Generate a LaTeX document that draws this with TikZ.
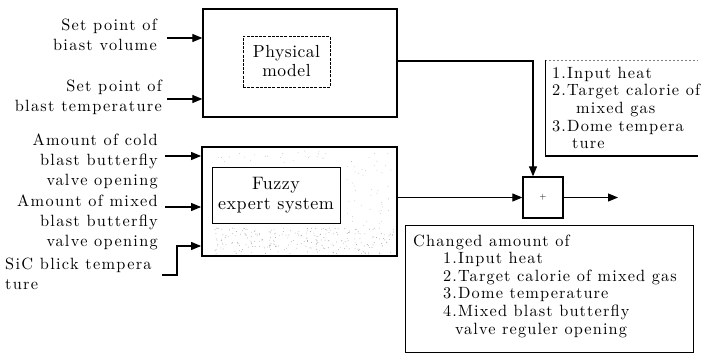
\documentclass[tikz,border=0pt]{standalone}
\usepackage{fontspec}
\usetikzlibrary{arrows.meta}

% Latin Modern at the 10pt design size, letter-spaced like typewritten labels
\newfontfamily\labfont{lmroman10-regular.otf}[LetterSpace=8]
\newfontfamily\notefont{lmroman10-regular.otf}[LetterSpace=7]
\newfontfamily\blockfont{lmroman10-regular.otf}[LetterSpace=3]

\tikzset{
  x=1pt, y=-1pt,
  arr/.style={line width=1.1pt, -{Triangle[length=10pt,width=8pt]}},
  lbl/.style={inner sep=0pt, align=right,
    font=\labfont\fontsize{16.3}{20}\selectfont},
  note/.style={inner sep=0pt, align=left,
    font=\notefont\fontsize{16.3}{17.6}\selectfont},
  outerbox/.style={draw, line width=1.3pt, inner sep=0pt},
  innerbox/.style={draw, line width=0.7pt, inner sep=0pt, align=center},
}

\begin{document}
\begin{tikzpicture}
  \useasboundingbox (0,0) rectangle (701,355);

  % main blocks
  \node[outerbox, minimum width=194pt, minimum height=108pt] (phys) at (300,63) {};
  \node[innerbox, dash pattern=on 3pt off 1.2pt, minimum width=87pt, minimum height=51pt,
        font=\blockfont\fontsize{17.5}{19}\selectfont]
        (physin) at (286.5,61.5) {Physical\\model};

  \node[outerbox, line width=1.8pt, minimum width=195pt, minimum height=109pt] (fuzzy) at (299.5,201.5) {};
  \node[innerbox, minimum width=128pt, minimum height=56pt,
        font=\blockfont\fontsize{18}{20}\selectfont]
        (fuzzyin) at (276,195) {Fuzzy\\expert system};

  % stippled shading inside the fuzzy block
  \begin{scope}
    \pgfmathsetseed{11}
    \foreach \i in {1,...,260}{
      \pgfmathsetmacro\px{215+180*rnd}
      \pgfmathsetmacro\py{228+26*rnd}
      \fill[gray!70] (\px,\py) circle (0.45pt);
    }
    \foreach \i in {1,...,45}{
      \pgfmathsetmacro\px{346+46*rnd}
      \pgfmathsetmacro\py{152+74*rnd}
      \fill[gray!60] (\px,\py) circle (0.4pt);
    }
    \foreach \i in {1,...,25}{
      \pgfmathsetmacro\px{216+120*rnd}
      \pgfmathsetmacro\py{151+12*rnd}
      \fill[gray!60] (\px,\py) circle (0.4pt);
    }
  \end{scope}

  % summing junction
  \node[draw, line width=1.3pt, minimum width=40pt, minimum height=41pt, inner sep=0pt,
        font=\fontsize{9}{9}\selectfont] (sum) at (543,197.5) {+};
  \coordinate (out) at (618,197.5);

  % input labels
  \node[lbl, anchor=east] (sp1) at (157,35) {Set point of\\biast volume};
  \node[lbl, anchor=east] (sp2) at (162,97.5) {Set point of\\blast temperature};
  \node[lbl, anchor=east] (cold) at (158,161) {Amount of cold\\blast butterfly\\valve opening};
  \node[lbl, anchor=east] (mix) at (158,222) {Amount of mixed\\blast butterfly\\valve opening};
  \node[lbl, align=left, anchor=west] (sic) at (5,273.5) {SiC blick tempera\\ture};

  % input arrows
  \coordinate (i1) at (167,38);
  \coordinate (i2) at (167,99);
  \coordinate (i3) at (165,156);
  \coordinate (i4) at (165,207);
  \coordinate (i5) at (162,275);
  \coordinate (bend) at (177,246);
  \draw[arr] (i1) -- (phys.west |- i1);
  \draw[arr] (i2) -- (phys.west |- i2);
  \draw[arr] (i3) -- (fuzzy.west |- i3);
  \draw[arr] (i4) -- (fuzzy.west |- i4);
  \draw[arr] (i5) -| (bend) -- (fuzzy.west |- bend);

  % block outputs into the junction
  \coordinate (ptop) at (397,61);
  \draw[arr] (ptop) -| ([xshift=-10pt]sum.north);
  \draw[arr] (fuzzy.east |- sum) -- (sum.west);
  \draw[arr] (sum.east) -- (out);

  % list of corrected quantities
  \coordinate (nTL) at (545,60);
  \coordinate (nBR) at (698,156);
  \draw[line width=0.5pt, dash pattern=on 2pt off 2pt, gray] (nTL) -- (nTL -| nBR);
  \draw[line width=0.7pt] (nTL) -- (nTL |- nBR);
  \draw[line width=1.1pt] (nTL |- nBR) -- (nBR);
  \node[note, anchor=west] (notes) at (552,108)
    {1.Input heat\\2.Target calorie of\\\hspace*{24pt}mixed gas\\3.Dome tempera\\\hspace*{20pt}ture};

  % changed amounts
  \node[draw, line width=0.8pt, minimum width=288pt, minimum height=127pt, inner sep=0pt,
        anchor=north west] (chg) at (405,225) {};
  \node[note, anchor=west] (chgtxt) at (413,286)
    {Changed amount of\\
     \hspace*{30pt}1.Input heat\\
     \hspace*{30pt}2.Target calorie of mixed gas\\
     \hspace*{30pt}3.Dome temperature\\
     \hspace*{30pt}4.Mixed blast butterfly\\
     \hspace*{42pt}valve reguler opening};
\end{tikzpicture}
\end{document}
